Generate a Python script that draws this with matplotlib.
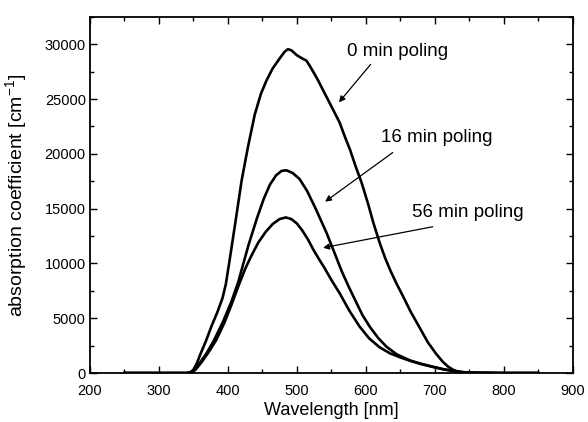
import matplotlib
matplotlib.use("Agg")
import matplotlib.pyplot as plt
from matplotlib.ticker import MultipleLocator

plt.rcParams["font.family"] = ["Liberation Sans", "DejaVu Sans"]

# ─────────── data ───────────
wl_0 = [250, 300, 340, 345, 350, 355, 360, 368, 376, 385, 392, 397, 402, 410,
        420, 429, 439, 448, 456, 465, 475, 482, 487, 492, 500, 508, 514, 520,
        530, 543, 552, 562, 570, 577, 585, 594, 603, 611, 620, 628, 636, 645,
        654, 665, 678, 690, 702, 712, 720, 728, 736, 750, 800, 850]
abs_0 = [0, 0, 0, 50, 300, 900, 1700, 2900, 4240, 5600, 6800, 8100, 10100,
         13400, 17600, 20600, 23600, 25500, 26700, 27800, 28700, 29300, 29550,
         29450, 29000, 28700, 28500, 27900, 26800, 25200, 24100, 22860, 21500,
         20400, 18900, 17350, 15500, 13700, 11900, 10500, 9300, 8100, 7000,
         5600, 4150, 2800, 1750, 1000, 550, 250, 100, 30, 0, 0]

wl_16 = [250, 300, 340, 346, 352, 360, 369, 380, 393, 405, 415, 422, 430, 442,
         452, 461, 470, 478, 485, 494, 504, 515, 528, 543, 555, 565, 575, 585,
         595, 606, 618, 630, 645, 664, 680, 697, 712, 726, 740, 760, 800, 850]
abs_16 = [0, 0, 0, 50, 300, 1000, 1800, 3000, 4700, 6500, 8300, 9900, 11700,
          14100, 15900, 17200, 18050, 18450, 18500, 18250, 17700, 16600, 14900,
          12800, 10900, 9300, 7900, 6600, 5300, 4200, 3200, 2400, 1700, 1150,
          850, 580, 350, 200, 80, 30, 0, 0]

wl_56 = [250, 300, 342, 347, 353, 362, 372, 383, 395, 405, 415, 425, 434, 444,
         455, 465, 475, 484, 492, 500, 508, 516, 524, 532, 540, 550, 562, 576,
         591, 605, 620, 635, 649, 665, 680, 697, 712, 726, 740, 760, 800, 850]
abs_56 = [0, 0, 0, 50, 300, 1000, 1900, 3000, 4600, 6200, 7900, 9500, 10700,
          11900, 12900, 13600, 14050, 14200, 14050, 13650, 13000, 12200, 11250,
          10400, 9600, 8500, 7290, 5700, 4240, 3150, 2350, 1800, 1450, 1100,
          820, 560, 350, 200, 80, 30, 0, 0]

labels = ["0 min poling", "16 min poling", "56 min poling"]
text_pos = [(646, 29360), (703, 21490), (748, 14630)]
arrow_tail = [(607, 28170), (639, 20120), (697, 13350)]
arrow_head = [(561, 24700), (541, 15640), (538, 11430)]

# ─────────── plot ───────────
fig = plt.figure(figsize=(5.88, 4.22), dpi=100)
ax = fig.add_axes([0.153, 0.116, 0.821, 0.844])

for wl, a in [(wl_0, abs_0), (wl_16, abs_16), (wl_56, abs_56)]:
    ax.plot(wl, a, color="black", lw=1.9, solid_joinstyle="round")

for lab, tp, tail, head in zip(labels, text_pos, arrow_tail, arrow_head):
    ax.text(tp[0], tp[1], lab, ha="center", va="center", fontsize=13.5)
    ax.annotate("", xy=head, xytext=tail,
                arrowprops=dict(arrowstyle="-|>", color="black", lw=0.9,
                                mutation_scale=9, shrinkA=0, shrinkB=0))

ax.set_xlim(200, 900)
ax.set_ylim(0, 32500)
ax.xaxis.set_major_locator(MultipleLocator(100))
ax.xaxis.set_minor_locator(MultipleLocator(50))
ax.yaxis.set_major_locator(MultipleLocator(5000))
ax.yaxis.set_minor_locator(MultipleLocator(2500))
ax.tick_params(which="both", direction="in", top=True, right=True,
               labelsize=10.5, width=1)
ax.tick_params(which="major", length=5, pad=3)
ax.tick_params(which="minor", length=3)
ax.tick_params(axis="x", which="major", pad=8)
for s in ax.spines.values():
    s.set_linewidth(1.3)

ax.set_xlabel("Wavelength [nm]", fontsize=13, labelpad=3)
ax.set_ylabel("absorption coefficient [cm$^{\\mathregular{-1}}$]", fontsize=14)
ax.yaxis.set_label_coords(-0.124, 0.5)

fig.savefig("out.png", dpi=100, facecolor="white")
